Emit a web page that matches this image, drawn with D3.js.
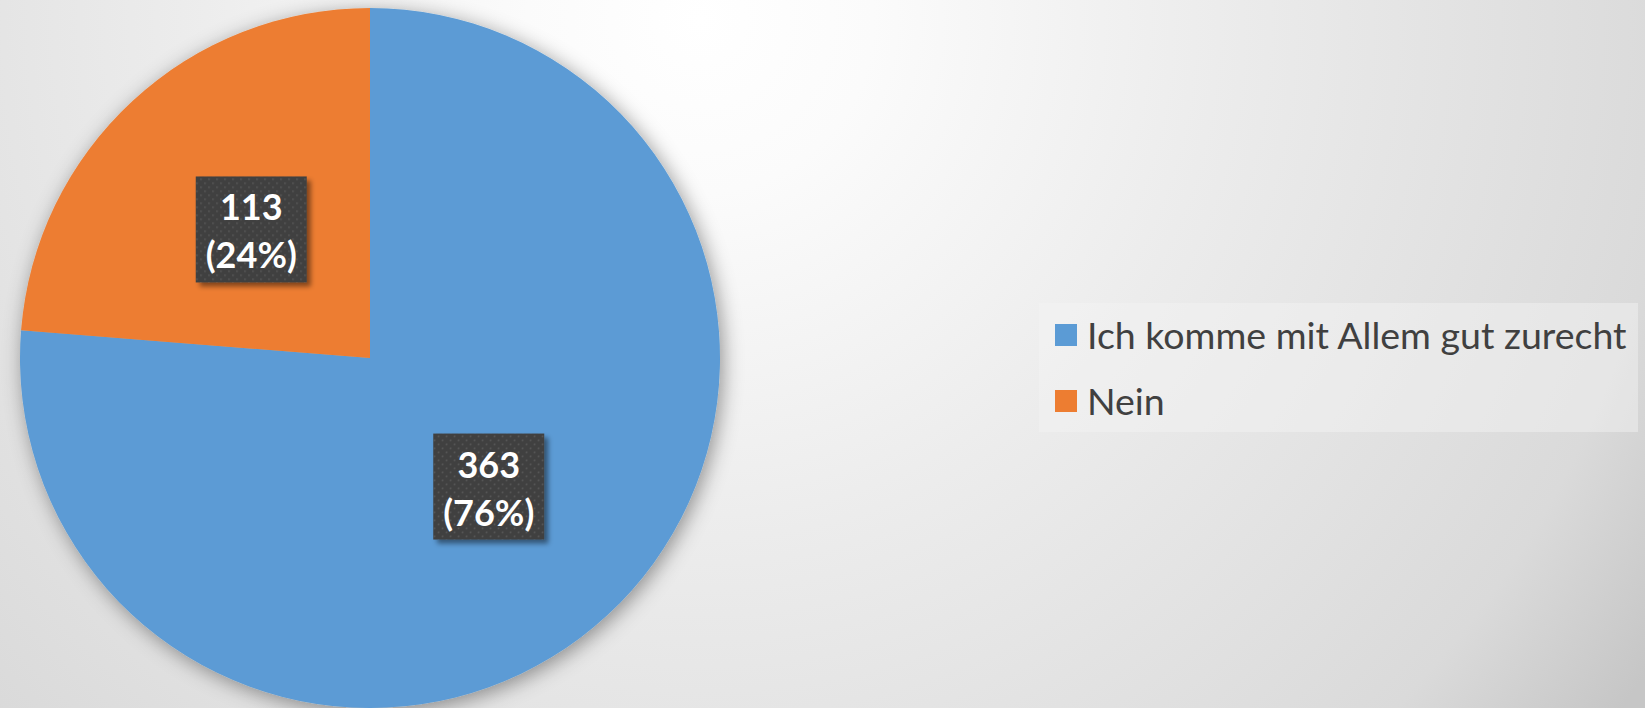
<!DOCTYPE html>
<html>
<head>
<meta charset="utf-8">
<script src="https://cdn.jsdelivr.net/npm/d3@7"></script>
<style>
  html, body { margin: 0; padding: 0; overflow: hidden; }
  svg { display: block; }
</style>
</head>
<body>
<svg id="chart"></svg>
<script>
// data
var categories = ["Ich komme mit Allem gut zurecht", "Nein"];
var counts = [363, 113];
var colors = ["#5B9BD5", "#ED7D31"];

var width = 1645, height = 708;
var cx = 370, cy = 358, radius = 350;

var svg = d3.select("#chart")
    .attr("width", width)
    .attr("height", height);

var defs = svg.append("defs");

// background: soft radial grey
var bg = defs.append("radialGradient")
    .attr("id", "bg")
    .attr("gradientUnits", "userSpaceOnUse")
    .attr("cx", 700).attr("cy", 20).attr("r", 1150);
bg.append("stop").attr("offset", "0").attr("stop-color", "#ffffff");
bg.append("stop").attr("offset", "0.15").attr("stop-color", "#fbfbfb");
bg.append("stop").attr("offset", "0.45").attr("stop-color", "#ececec");
bg.append("stop").attr("offset", "0.85").attr("stop-color", "#dadada");
bg.append("stop").attr("offset", "1").attr("stop-color", "#c6c6c6");

var pieShadow = defs.append("filter")
    .attr("id", "pieShadow")
    .attr("x", "-20%").attr("y", "-20%").attr("width", "140%").attr("height", "140%");
pieShadow.append("feDropShadow")
    .attr("dx", 3).attr("dy", 4)
    .attr("stdDeviation", 10)
    .attr("flood-color", "#000")
    .attr("flood-opacity", 0.4);

var boxShadow = defs.append("filter")
    .attr("id", "boxShadow")
    .attr("x", "-20%").attr("y", "-20%").attr("width", "150%").attr("height", "150%");
boxShadow.append("feDropShadow")
    .attr("dx", 4).attr("dy", 4)
    .attr("stdDeviation", 2.5)
    .attr("flood-color", "#000")
    .attr("flood-opacity", 0.45);

// dotted texture for the label boxes
var dots = defs.append("pattern")
    .attr("id", "dots")
    .attr("patternUnits", "userSpaceOnUse")
    .attr("width", 8).attr("height", 8);
dots.append("rect").attr("width", 8).attr("height", 8).attr("fill", "#404040");
dots.append("rect").attr("x", 1).attr("y", 1).attr("width", 1.5).attr("height", 1.5).attr("fill", "#5e5e5e");
dots.append("rect").attr("x", 5).attr("y", 5).attr("width", 1.5).attr("height", 1.5).attr("fill", "#5e5e5e");

svg.append("rect")
    .attr("width", width)
    .attr("height", height)
    .attr("fill", "url(#bg)");

var color = d3.scaleOrdinal().domain(categories).range(colors);
var total = d3.sum(counts);
var data = categories.map(function(c, i) { return {name: c, value: counts[i]}; });

var pie = d3.pie()
    .sort(null)
    .value(function(d) { return d.value; });

var arc = d3.arc()
    .innerRadius(0)
    .outerRadius(radius);

var g = svg.append("g")
    .attr("transform", "translate(" + cx + "," + cy + ")");

g.append("g")
    .attr("filter", "url(#pieShadow)")
  .selectAll("path")
    .data(pie(data))
  .enter().append("path")
    .attr("d", arc)
    .attr("fill", function(d) { return color(d.data.name); });

// data labels
var boxW = 111, boxH = 106;
var labels = g.selectAll(".label")
    .data(pie(data))
  .enter().append("g")
    .attr("class", "label")
    .attr("transform", function(d) {
      var c = arc.centroid(d);
      return "translate(" + c[0] + "," + c[1] + ")";
    });

labels.append("rect")
    .attr("x", -boxW / 2)
    .attr("y", -boxH / 2)
    .attr("width", boxW)
    .attr("height", boxH)
    .attr("fill", "url(#dots)")
    .attr("filter", "url(#boxShadow)");

var lbl = labels.append("text")
    .attr("text-anchor", "middle")
    .attr("fill", "#ffffff")
    .style("font-family", "Lato, 'Open Sans', sans-serif")
    .style("font-weight", "bold")
    .style("font-size", "36px");
lbl.append("tspan")
    .attr("x", 0)
    .attr("y", -9)
    .text(function(d) { return d.data.value; });
lbl.append("tspan")
    .attr("x", 0)
    .attr("y", 39)
    .text(function(d) { return "(" + Math.round(d.data.value / total * 100) + "%)"; });

// legend
var legend = svg.append("g")
    .attr("transform", "translate(1039,303)");

legend.append("rect")
    .attr("width", 599)
    .attr("height", 129)
    .attr("fill", "#f4f4f4")
    .attr("opacity", 0.45);

var item = legend.selectAll(".item")
    .data(categories)
  .enter().append("g")
    .attr("class", "item")
    .attr("transform", function(d, i) { return "translate(16," + (21 + i * 66) + ")"; });

item.append("rect")
    .attr("width", 22)
    .attr("height", 22)
    .attr("fill", function(d) { return color(d); });

item.append("text")
    .attr("x", 32)
    .attr("y", 25)
    .attr("fill", "#404040")
    .style("font-family", "Lato, 'Open Sans', sans-serif")
    .style("font-size", "37.5px")
    .text(function(d) { return d; });
</script>
</body>
</html>
